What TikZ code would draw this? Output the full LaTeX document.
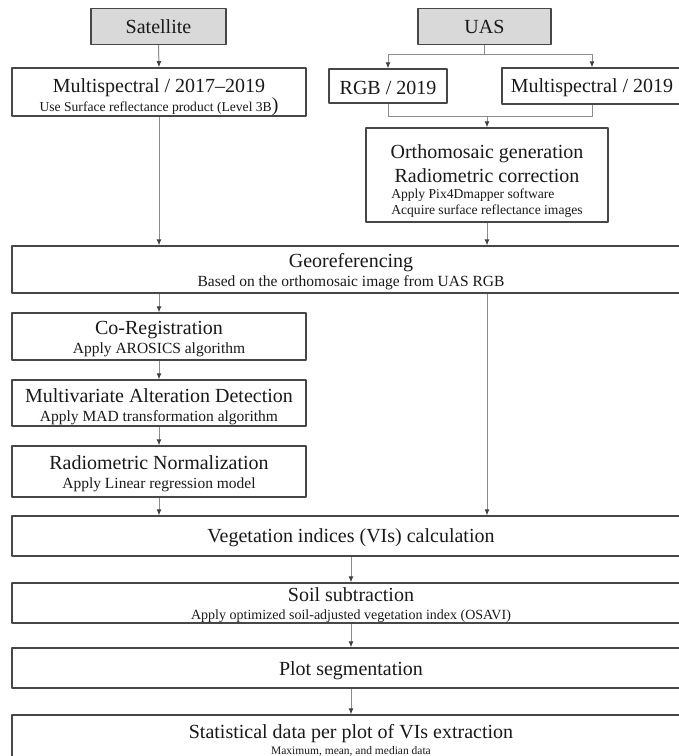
\documentclass[tikz,border=0pt]{standalone}
\usepackage{fontspec}
\setmainfont{Liberation Serif}
\usetikzlibrary{arrows.meta}
\definecolor{boxline}{HTML}{474747}
\definecolor{linkgray}{HTML}{8C8C8C}
\definecolor{srcfill}{HTML}{D9D9D9}
\newcommand\bigtxt{\fontsize{20}{20}\selectfont}
\newcommand\subtxt[1]{\fontsize{#1}{16}\selectfont}
\newcommand\lift[1]{\rule{0pt}{#1}}
\begin{document}
\begin{tikzpicture}[x=1pt,y=-1pt,line join=round,
	>={Latex[length=6pt,width=5pt,color=black!75]},
	box/.style={draw=boxline,line width=1.3pt,align=center,inner sep=0pt,font=\bigtxt,text=black!90},
	src/.style={box,fill=srcfill,minimum height=36pt},
	link/.style={draw=linkgray,line width=1pt},
	arr/.style={link,->}]
	\def \lx{159};
	\def \wx{351};
	\def \wide{678pt};
	\def \narrow{294pt};
	\useasboundingbox (0,0) rectangle (679,756);
	% sources
	\node[src,minimum width=135pt] (sat) at (158.5,26.5) {Satellite};
	\node[src,minimum width=133pt] (uas) at (484.5,26.5) {UAS};
	\node[box,minimum width=\narrow,minimum height=48pt] (ms17) at (\lx,92) {\lift{25pt}Multispectral / 2017–2019\\[-1pt]{\subtxt{13.6}Use Surface reflectance product (Level 3B}{\bigtxt )}};
	\node[box,minimum width=118pt,minimum height=34pt] (rgb) at (388,86) {\lift{17pt}RGB / 2019};
	\node[box,minimum width=180pt,minimum height=36pt] (ms19) at (592,86) {\lift{17pt}Multispectral / 2019};
	\node[box,minimum width=242pt,minimum height=94pt] (ortho) at (487,175) {\lift{28pt}Orthomosaic generation\\[4pt]Radiometric correction\\[-4pt]{\subtxt{13.6}\begin{tabular}[t]{@{}l@{}}Apply Pix4Dmapper software\\Acquire surface reflectance images\end{tabular}}};
	% processing chain
	\node[box,minimum width=\wide,minimum height=47pt] (georef) at (\wx,269.5) {\lift{19pt}Georeferencing\\[-1pt]{\subtxt{15.5}Based on the orthomosaic image from UAS RGB}};
	\node[box,minimum width=\narrow,minimum height=47pt] (coreg) at (\lx,336.5) {\lift{18pt}Co-Registration\\[-1pt]{\subtxt{15.5}Apply AROSICS algorithm}};
	\node[box,minimum width=\narrow,minimum height=46pt] (mad) at (\lx,403) {\lift{22pt}Multivariate Alteration Detection\\[-1pt]{\subtxt{15.5}Apply MAD transformation algorithm}};
	\node[box,minimum width=\narrow,minimum height=51pt] (rnorm) at (\lx,471.5) {\lift{18pt}Radiometric Normalization\\[-1pt]{\subtxt{15.5}Apply Linear regression model}};
	\node[box,minimum width=\wide,minimum height=40pt] (vi) at (\wx,536) {\lift{18pt}Vegetation indices (VIs) calculation};
	\node[box,minimum width=\wide,minimum height=40pt] (soil) at (\wx,603) {\lift{18pt}Soil subtraction\\[-2pt]{\subtxt{14}Apply optimized soil-adjusted vegetation index (OSAVI)}};
	\node[box,minimum width=\wide,minimum height=40pt] (plotseg) at (\wx,668) {\lift{20pt}Plot segmentation};
	\node[box,minimum width=\wide,minimum height=50pt] (stats) at (\wx,740) {Statistical data per plot of VIs extraction\\[-4pt]{\subtxt{11.5}Maximum, mean, and median data}};
	% connectors
	\draw[arr] (sat.south) -- (ms17.north);
	\draw[arr] (uas.south) -- ++(0,9) -| (rgb.north);
	\draw[arr] (uas.south) -- ++(0,9) -| (ms19.north);
	\draw[link] (rgb.south) -- ++(0,13) -| (ms19.south);
	\draw[arr] (ortho.north |- rgb.south) ++(0,13) -- (ortho.north);
	\draw[arr] (ms17.south) -- (ms17.south |- georef.north);
	\draw[arr] (ortho.south) -- (ortho.south |- georef.north);
	\draw[arr] (georef.south -| coreg.north) -- (coreg.north);
	\draw[arr] (georef.south -| ortho.south) -- (vi.north -| ortho.south);
	\draw[arr] (rnorm.south) -- (rnorm.south |- vi.north);
	\foreach \a/\b in {coreg/mad,mad/rnorm,vi/soil,soil/plotseg,plotseg/stats}
		\draw[arr] (\a.south) -- (\b.north);
\end{tikzpicture}
\end{document}
